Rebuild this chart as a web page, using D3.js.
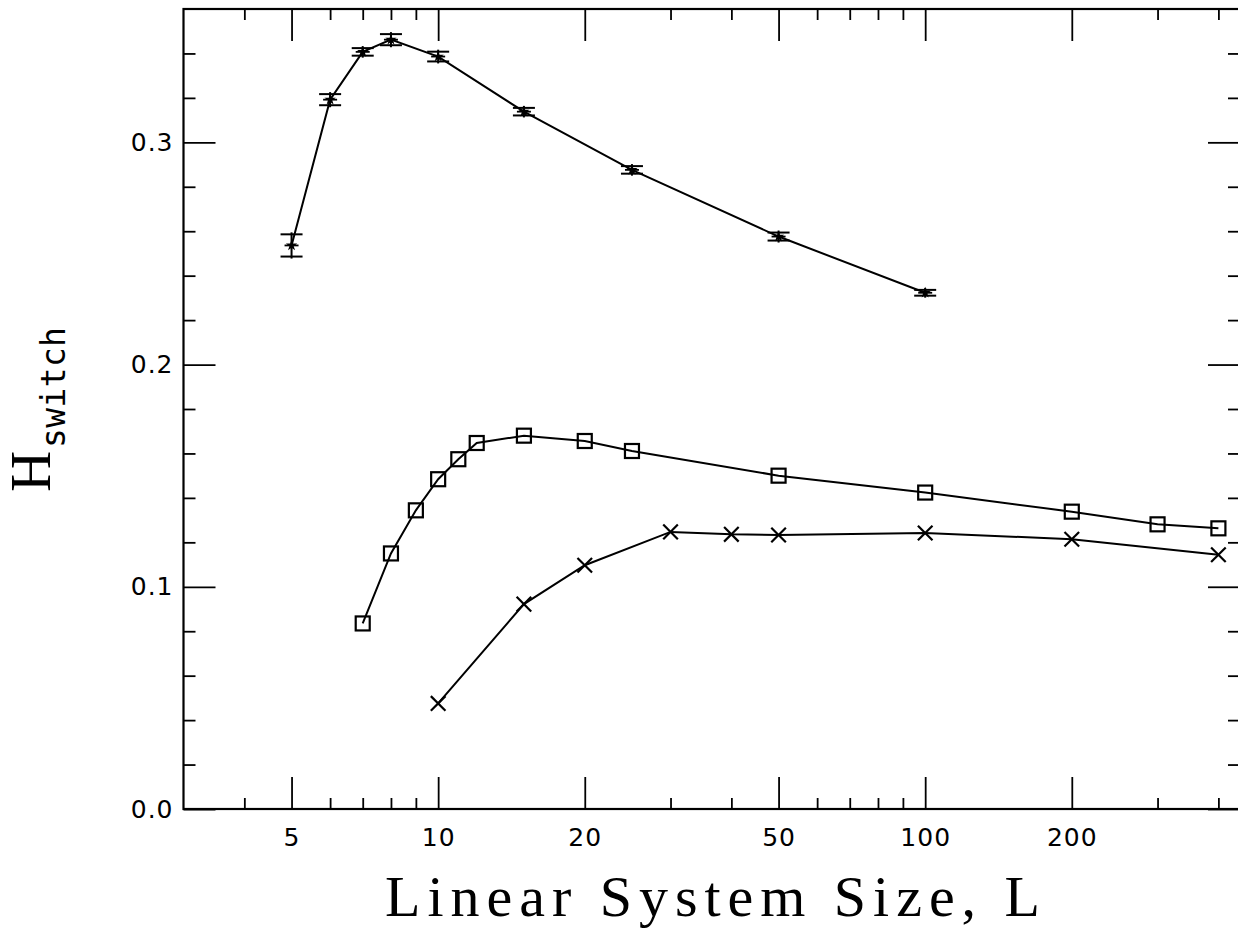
<!DOCTYPE html>
<html>
<head>
<meta charset="utf-8">
<title>H_switch vs L</title>
<script src="https://d3js.org/d3.v7.min.js"></script>
<style>
  body { margin: 0; background: #fff; }
  svg { display: block; }
</style>
</head>
<body>
<div id="canvas"></div>

<script>
  // star series (with error bars)
  var starL   = [5, 6, 7, 8, 10, 15, 25, 50, 100];
  var starH   = [0.2536, 0.3192, 0.3407, 0.3462, 0.3386, 0.3138, 0.2876, 0.2576, 0.2323];
  var starErr = [0.0050, 0.0025, 0.0017, 0.0025, 0.0022, 0.0017, 0.0017, 0.0018, 0.0013];

  // square series
  var squareL = [7, 8, 9, 10, 11, 12, 15, 20, 25, 50, 100, 200, 300, 400];
  var squareH = [0.0835, 0.1150, 0.1344, 0.1484, 0.1574, 0.1647, 0.1680, 0.1656, 0.1611,
                 0.1500, 0.1424, 0.1338, 0.1281, 0.1263];

  // cross series
  var crossL = [10, 15, 20, 30, 40, 50, 100, 200, 400];
  var crossH = [0.0475, 0.0922, 0.1097, 0.1247, 0.1236, 0.1233, 0.1242, 0.1214, 0.1144];

  // ticks
  var xMajor = [5, 10, 20, 50, 100, 200];
  var xMinor = [4, 6, 7, 8, 9, 30, 40, 60, 70, 80, 90, 300, 400];
  var yMajor = [0, 0.1, 0.2, 0.3];
  var yMinor = [0.02, 0.04, 0.06, 0.08, 0.12, 0.14, 0.16, 0.18,
                0.22, 0.24, 0.26, 0.28, 0.32, 0.34];

  var W = 1238, H = 929;
  var pLeft = 183.5, pRight = 1240, pTop = 9, pBottom = 809;

  var svg = d3.select('#canvas').append('svg')
    .attr('width', W)
    .attr('height', H);

  var x = d3.scaleLog().domain([3, 443]).range([pLeft, pRight]);
  var y = d3.scaleLinear().domain([0, 0.36]).range([pBottom, pTop]);

  var tickFont = '"DejaVu Sans", sans-serif';

  function styleAxis(g) {
    g.select('.domain').remove();
    g.attr('font-family', null).attr('font-size', null);
    g.selectAll('line').attr('stroke', '#000').attr('stroke-width', 1.8);
    g.selectAll('text').attr('fill', '#000')
      .style('font-family', tickFont).style('font-size', '25px')
      .style('letter-spacing', '1px');
  }

  // bottom axis, labelled majors + minors
  svg.append('g').attr('transform', `translate(0,${pBottom})`)
    .call(d3.axisBottom(x).tickValues(xMajor).tickSize(-32).tickPadding(19)
      .tickFormat(d3.format('d')))
    .call(styleAxis);
  svg.append('g').attr('transform', `translate(0,${pBottom})`)
    .call(d3.axisBottom(x).tickValues(xMinor).tickSize(-11).tickFormat(''))
    .call(styleAxis);

  // top axis (mirror)
  svg.append('g').attr('transform', `translate(0,${pTop})`)
    .call(d3.axisTop(x).tickValues(xMajor).tickSize(-32).tickFormat(''))
    .call(styleAxis);
  svg.append('g').attr('transform', `translate(0,${pTop})`)
    .call(d3.axisTop(x).tickValues(xMinor).tickSize(-11).tickFormat(''))
    .call(styleAxis);

  // left axis
  svg.append('g').attr('transform', `translate(${pLeft},0)`)
    .call(d3.axisLeft(y).tickValues(yMajor).tickSize(-32).tickPadding(10)
      .tickFormat(d3.format('.1f')))
    .call(styleAxis);
  svg.append('g').attr('transform', `translate(${pLeft},0)`)
    .call(d3.axisLeft(y).tickValues(yMinor).tickSize(-12).tickFormat(''))
    .call(styleAxis);

  // right axis (mirror)
  svg.append('g').attr('transform', `translate(${pRight},0)`)
    .call(d3.axisRight(y).tickValues(yMajor).tickSize(-32).tickFormat(''))
    .call(styleAxis);
  svg.append('g').attr('transform', `translate(${pRight},0)`)
    .call(d3.axisRight(y).tickValues(yMinor).tickSize(-12).tickFormat(''))
    .call(styleAxis);

  // frame
  svg.append('rect')
    .attr('x', pLeft).attr('y', pTop)
    .attr('width', pRight - pLeft).attr('height', pBottom - pTop)
    .attr('fill', 'none').attr('stroke', '#000').attr('stroke-width', 2.2);

  var line = d3.line()
    .x(function(d) { return x(d[0]); })
    .y(function(d) { return y(d[1]); });

  function drawLine(ls, hs) {
    svg.append('path')
      .datum(d3.zip(ls, hs))
      .attr('d', line)
      .attr('fill', 'none')
      .attr('stroke', '#000')
      .attr('stroke-width', 2);
  }

  drawLine(starL, starH);
  drawLine(squareL, squareH);
  drawLine(crossL, crossH);

  // error bars on the star series
  var starData = starL.map(function(l, i) { return { l: l, h: starH[i], e: starErr[i] }; });
  var eb = svg.append('g').attr('stroke', '#000').attr('stroke-width', 2);
  starData.forEach(function(d) {
    var cx = x(d.l), y0 = y(d.h - d.e), y1 = y(d.h + d.e);
    eb.append('line').attr('x1', cx).attr('x2', cx).attr('y1', y0 + 2).attr('y2', y1 - 2);
    eb.append('line').attr('x1', cx - 11).attr('x2', cx + 11).attr('y1', y0).attr('y2', y0);
    eb.append('line').attr('x1', cx - 11).attr('x2', cx + 11).attr('y1', y1).attr('y2', y1);
  });

  // star markers
  svg.append('g').selectAll('path')
    .data(starData)
    .enter().append('path')
      .attr('transform', function(d) { return `translate(${x(d.l)},${y(d.h)})`; })
      .attr('d', d3.symbol(d3.symbolStar).size(40))
      .attr('fill', '#000');
  svg.append('g').selectAll('line')
    .data(starData)
    .enter().append('line')
      .attr('x1', function(d) { return x(d.l) - 7; })
      .attr('x2', function(d) { return x(d.l) + 7; })
      .attr('y1', function(d) { return y(d.h); })
      .attr('y2', function(d) { return y(d.h); })
      .attr('stroke', '#000').attr('stroke-width', 1.8);

  // open squares
  svg.append('g').selectAll('rect')
    .data(d3.zip(squareL, squareH))
    .enter().append('rect')
      .attr('x', function(d) { return x(d[0]) - 7; })
      .attr('y', function(d) { return y(d[1]) - 7; })
      .attr('width', 14).attr('height', 14)
      .attr('fill', 'none')
      .attr('stroke', '#000')
      .attr('stroke-width', 2.2);

  // crosses
  var cr = svg.append('g').attr('stroke', '#000').attr('stroke-width', 2.2);
  d3.zip(crossL, crossH).forEach(function(d) {
    var cx = x(d[0]), cy = y(d[1]), s = 7.3;
    cr.append('line').attr('x1', cx - s).attr('y1', cy - s).attr('x2', cx + s).attr('y2', cy + s);
    cr.append('line').attr('x1', cx - s).attr('y1', cy + s).attr('x2', cx + s).attr('y2', cy - s);
  });

  // axis titles
  svg.append('text')
    .text('Linear System Size, L')
    .attr('x', 385).attr('y', 916)
    .attr('textLength', 655)
    .attr('lengthAdjust', 'spacing')
    .style('font-family', '"Liberation Serif", serif')
    .style('font-size', '58px')
    .attr('fill', '#000');

  var yt = svg.append('g').attr('transform', 'rotate(-90)');
  yt.append('text')
    .text('H')
    .attr('x', -492).attr('y', 50)
    .style('font-family', '"Liberation Serif", serif')
    .style('font-size', '57px')
    .attr('fill', '#000');
  yt.append('text')
    .text('switch')
    .attr('x', -448).attr('y', 65)
    .attr('textLength', 121)
    .attr('lengthAdjust', 'spacing')
    .style('font-family', '"DejaVu Sans Mono", monospace')
    .style('font-size', '33px')
    .attr('fill', '#000');
</script>
</body>
</html>
